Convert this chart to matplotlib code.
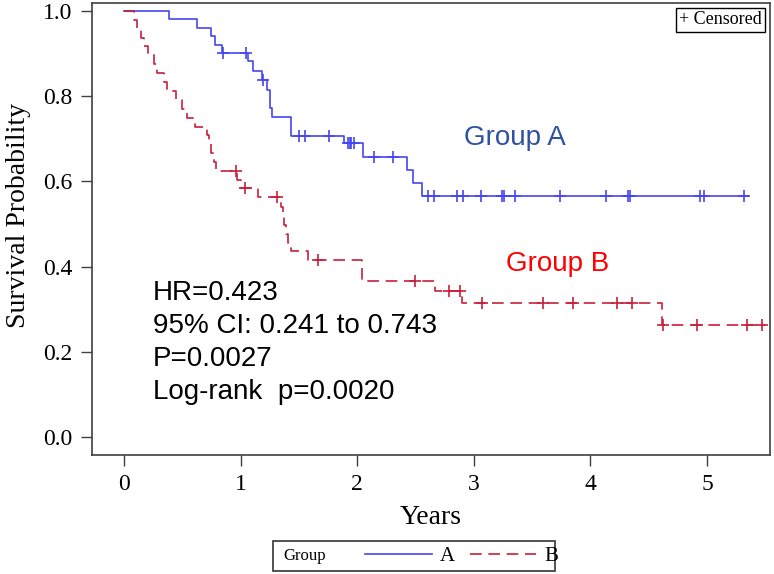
import numpy as np
import matplotlib.pyplot as plt
from matplotlib.patches import Rectangle

# Group A: step times (years) and survival after each step
a_times = [0, 0.39, 0.63, 0.75, 0.78, 0.84, 1.06, 1.11, 1.18, 1.23, 1.25, 1.27, 1.43,
           1.89, 2.05, 2.43, 2.48, 2.56]
a_surv = [1.0, 0.981, 0.960, 0.941, 0.920, 0.901, 0.883, 0.859, 0.838, 0.815, 0.772,
          0.751, 0.707, 0.690, 0.657, 0.627, 0.596, 0.566]
a_end = 5.35
a_cens = [0.85, 1.05, 1.19, 1.50, 1.55, 1.76, 1.92, 1.94, 1.95, 1.97, 2.14, 2.31,
          2.61, 2.66, 2.86, 2.91, 3.06, 3.24, 3.26, 3.35, 3.74, 4.13, 4.32, 4.34,
          4.94, 4.97, 5.32]

# Group B
b_times = [0, 0.09, 0.11, 0.15, 0.17, 0.21, 0.26, 0.28, 0.34, 0.37, 0.45, 0.50, 0.54,
           0.61, 0.71, 0.73, 0.75, 0.77, 0.79, 0.97, 1.00, 1.15, 1.35, 1.36, 1.37,
           1.39, 1.41, 1.43, 1.58, 2.04, 2.67, 2.90, 4.61]
b_surv = [1.0, 0.979, 0.958, 0.938, 0.917, 0.896, 0.875, 0.854, 0.833, 0.812, 0.792,
          0.771, 0.750, 0.729, 0.708, 0.688, 0.667, 0.646, 0.625, 0.603, 0.584, 0.563,
          0.540, 0.519, 0.498, 0.477, 0.456, 0.436, 0.415, 0.366, 0.343, 0.314, 0.262]
b_end = 5.50
b_cens = [0.96, 1.04, 1.31, 1.66, 2.50, 2.79, 2.88, 3.07, 3.59, 3.85, 4.23, 4.36,
          4.62, 4.91, 5.34, 5.47]

stats = ['HR=0.423', '95% CI: 0.241 to 0.743', 'P=0.0027', 'Log-rank  p=0.0020']

blue = '#4646f0'
red = '#c8203c'
serif = 'Liberation Serif'
sans = 'Liberation Sans'

fig = plt.figure(figsize=(7.74, 5.74), dpi=100)
ax = fig.add_axes([92/774, 1 - 455/574, (770 - 92)/774, (455 - 3)/574])


def km(times, surv, end, cens, color, ls):
    t = np.r_[times, end]
    s = np.r_[surv, surv[-1]]
    line, = ax.step(t, s, where='post', color=color, lw=1.2, linestyle=ls)
    idx = np.searchsorted(times, cens, side='right') - 1
    ax.plot(cens, np.array(surv)[idx], '+', color=color, ms=9, mew=1.2)
    return line


la = km(a_times, a_surv, a_end, a_cens, blue, '-')
lb = km(b_times, b_surv, b_end, b_cens, red, (0, (7, 4)))

ax.set_xlim(-0.274, 5.54)
ax.set_ylim(-0.042, 1.019)
ax.set_xticks(range(6))
ax.set_yticks(np.arange(0, 1.01, 0.2))
ax.set_yticklabels([f'{v:.1f}' for v in np.arange(0, 1.01, 0.2)])
ax.tick_params(direction='out', length=8, width=1, color='#404040',
               labelsize=17, pad=6)
for lab in ax.get_xticklabels() + ax.get_yticklabels():
    lab.set_family(serif)
for sp in ax.spines.values():
    sp.set_color('#404040')
    sp.set_linewidth(1.2)

ax.set_xlabel('Years', family=serif, fontsize=20)
ax.xaxis.set_label_coords(0.5, -0.11)
ax.set_ylabel('Survival Probability', family=serif, fontsize=20)
ax.yaxis.set_label_coords(-0.09, 0.53)

ax.text(2.92, 0.685, 'Group A', color='#2e51a2', family=sans, fontsize=20)
ax.text(3.28, 0.39, 'Group B', color='#ff0000', family=sans, fontsize=20)
for i, s in enumerate(stats):
    ax.text(0.25, 0.322 - i * 0.0775, s, family=sans, fontsize=20)

ax.text(0.988, 0.982, '+ Censored', transform=ax.transAxes, ha='right', va='top',
        family=serif, fontsize=13,
        bbox=dict(boxstyle='square,pad=0.2', fc='white', ec='black', lw=1))

# bottom legend
fig.add_artist(Rectangle((273/774, 1 - 571/574), (555 - 273)/774, 30/574,
                         transform=fig.transFigure, fill=False, ec='#333333', lw=1.2))
fig.text(283/774, 1 - 556/574, 'Group', va='center', family=serif, fontsize=12)
fig.legend([la, lb], ['A', 'B'], loc='center left', bbox_to_anchor=(365/774, 1 - 556/574),
           ncol=2, frameon=False, handlelength=3.2, handletextpad=0.4,
           columnspacing=0.7, borderpad=0, borderaxespad=0,
           prop={'family': serif, 'size': 15})

fig.savefig('out.png', dpi=100)
